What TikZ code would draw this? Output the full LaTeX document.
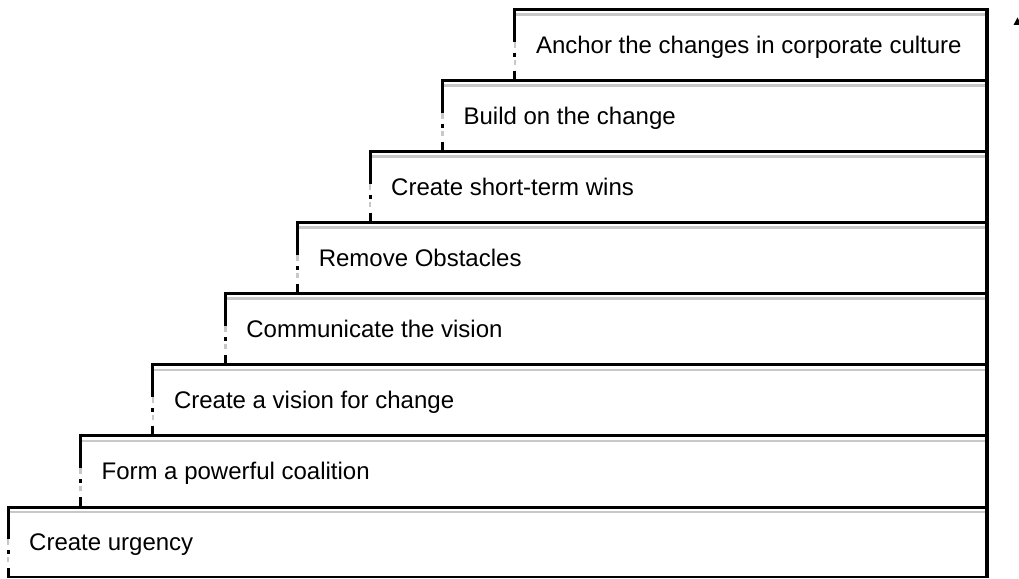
\documentclass[tikz,border=0pt]{standalone}
\usepackage{fontspec}
\setmainfont{Liberation Sans}
\definecolor{stepgray}{HTML}{C8C8C8}
\begin{document}
\begin{tikzpicture}[x=1pt,y=-1pt,
  stepline/.style={line width=3pt,black,line join=miter},
  edgeline/.style={line width=3pt,black},
  shade/.style={line width=2.6pt,stepgray},
  steptext/.style={anchor=base west,inner sep=0pt,font=\fontsize{24}{28}\selectfont}]
\useasboundingbox (0,0) rectangle (1019,578);
\foreach \i/\t in {0/Create urgency,1/Form a powerful coalition,2/Create a vision for change,3/Communicate the vision,4/Remove Obstacles,5/Create short-term wins,6/Build on the change,7/Anchor the changes in corporate culture}{
  \pgfmathsetmacro{\xx}{8+72.4*\i}
  \pgfmathsetmacro{\yy}{507-71.07*\i}
  % gray shade under top line
  \draw[shade] (\xx+1.5,\yy+5) -- (986,\yy+5);
  % left edge gaps
  \draw[shade] (\xx,\yy+32) -- (\xx,\yy+38);
  \draw[shade] (\xx,\yy+50) -- (\xx,\yy+55);
  % top line and upper part of left edge
  \draw[stepline] (\xx,\yy+32) -- (\xx,\yy) -- (987,\yy);
  \draw[edgeline] (\xx,\yy+43) -- (\xx,\yy+47);
  \draw[edgeline] (\xx,\yy+61) -- (\xx,\yy+71);
  \node[steptext] (s\i) at (\xx+21,\yy+43.7) {\t};
}
% right edge and bottom
\draw[line width=3.6pt,black] (987,8) -- (987,577.5);
\draw[line width=2pt,black] (7,576.6) -- (988,576.6);
% cut-off arrow tip at top right
\begin{scope}
\clip (0,0) rectangle (1019,578);
\fill[black] (1013.5,25) -- (1017.5,17.5) -- (1021.5,25) -- cycle;
\end{scope}
\end{tikzpicture}
\end{document}
